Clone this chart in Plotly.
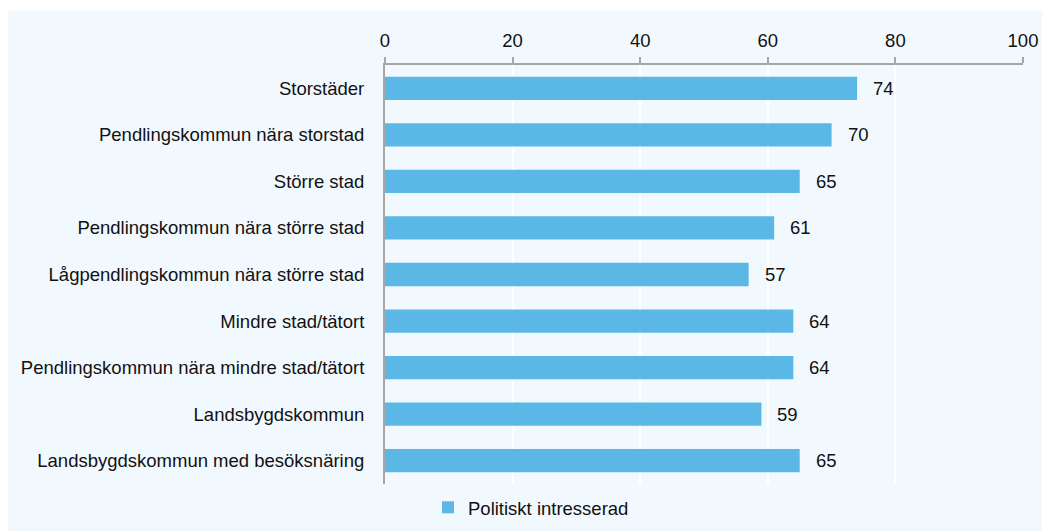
import plotly.graph_objects as go

categories = [
    "Storstäder",
    "Pendlingskommun nära storstad",
    "Större stad",
    "Pendlingskommun nära större stad",
    "Lågpendlingskommun nära större stad",
    "Mindre stad/tätort",
    "Pendlingskommun nära mindre stad/tätort",
    "Landsbygdskommun",
    "Landsbygdskommun med besöksnäring",
]
values = [74, 70, 65, 61, 57, 64, 64, 59, 65]
series_name = "Politiskt intresserad"
tick_vals = [0, 20, 40, 60, 80, 100]

W, H = 1050, 531
ml, mr, mt, mb = 377, 35, 57, 51
bg = "#f2f9fe"
bar_color = "#5bb8e6"
font_family = "Liberation Sans, Arial, sans-serif"
fs = 18.5

fig = go.Figure()
fig.add_trace(go.Bar(
    y=categories, x=values, orientation="h", name=series_name,
    marker=dict(color=bar_color, line=dict(width=0)), width=0.5,
    showlegend=True,
))
for c, v in zip(categories, values):
    fig.add_annotation(x=v, y=c, text=str(v), showarrow=False, xanchor="left",
                       xshift=14, font=dict(size=fs, color="#111111", family=font_family))

pw = W - ml - mr
ph = H - mt - mb
fig.add_shape(type="rect", xref="paper", yref="paper", layer="below",
              x0=(0 - ml) / pw, x1=(W - ml) / pw + 0.01,
              y0=-(mb) / ph - 0.01, y1=(H - 2 - mb) / ph,
              fillcolor=bg, line=dict(width=0))

fig.update_layout(
    width=W, height=H,
    margin=dict(l=ml, r=mr, t=mt, b=mb),
    paper_bgcolor="white", plot_bgcolor=bg,
    font=dict(family=font_family, size=fs, color="#111111"),
    xaxis=dict(side="top", range=[0, 100], tickvals=tick_vals, showgrid=True,
               gridcolor="white", gridwidth=2, zeroline=False,
               showline=True, linecolor="#a6a6a6", linewidth=2,
               ticks="outside", ticklen=6, tickcolor="#a6a6a6", tickwidth=2,
               ticklabelstandoff=3, tickfont=dict(size=fs)),
    yaxis=dict(autorange="reversed", showline=True, linecolor="#a6a6a6", linewidth=2,
               ticks="", ticklabelstandoff=15, tickfont=dict(size=fs), showgrid=False),
    legend=dict(orientation="h", x=(420 - ml) / pw, xanchor="left",
                y=-24 / ph, yanchor="middle",
                bgcolor="rgba(0,0,0,0)", font=dict(size=fs)),
)
fig.write_html("out.html")
